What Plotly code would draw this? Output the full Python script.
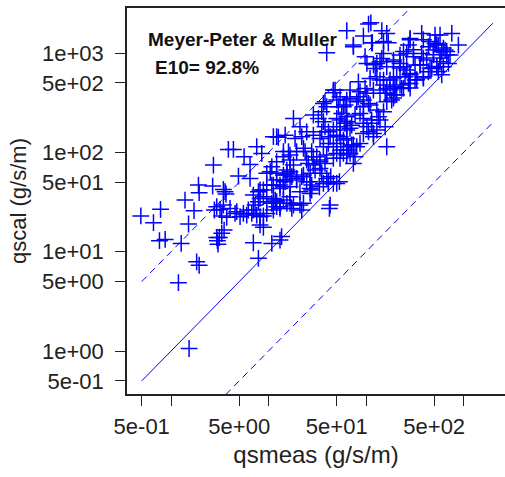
import plotly.graph_objects as go

# measured vs calculated sediment transport (g/s/m)
qsmeas = [
    0.49, 0.66, 0.78, 0.76, 0.87, 1.27, 1.19, 1.39, 1.51, 1.72, 1.91, 1.94, 1.83, 1.94, 1.53,
    2.72, 2.67, 2.78, 2.94, 2.99, 3.03, 3.18, 3.31, 3.44, 3.66, 3.50, 3.13, 3.87, 4.36, 3.72,
    4.91, 5.61, 6.46, 4.53, 5.10, 5.52, 5.97, 6.72, 7.56, 8.18, 8.85, 9.58, 6.98, 7.87, 8.85,
    7.56, 8.51, 7.87, 8.18, 8.85, 9.58, 7.27, 7.87, 11.2, 12.6, 10.8, 13.1, 13.6, 10.8, 9.58,
    12.1, 13.1, 14.2, 11.7, 10.8, 12.1, 13.1, 15.4, 18.0, 18.0, 21.0, 18.7, 21.9, 16.0, 14.2,
    16.6, 15.4, 17.3, 19.4, 21.9, 14.8, 16.6, 16.6, 17.3, 21.0, 21.9, 23.7, 25.6, 27.7, 28.8,
    26.7, 30.0, 33.7, 24.6, 27.7, 27.7, 26.7, 35.1, 37.9, 39.5, 35.1, 37.9, 41.1, 42.8, 36.5,
    41.1, 46.2, 31.2, 33.7, 37.9, 35.1, 39.5, 43.4, 33.2, 36.5, 41.1, 46.2, 50.0, 42.1, 50.0,
    53.3, 46.2, 54.1, 63.4, 52.0, 56.3, 54.1, 60.9, 68.5, 54.1, 58.6, 65.9, 74.1, 50.0, 55.0,
    58.6, 68.5, 74.1, 77.1, 80.2, 86.7, 77.1, 86.7, 93.9, 93.9, 106, 83.4, 97.7, 83.4, 93.9,
    102, 114, 129, 106, 119, 114, 134, 102, 97.7, 129, 124, 145, 139, 151, 163,
    157, 176, 198, 163, 183, 176, 206, 191, 223, 163, 191, 223, 261, 283, 251,
    283, 318, 358, 419, 472, 372, 436, 510, 491, 552, 597, 387, 436, 531, 574,
    621, 699, 727, 646, 757, 885, 372, 510, 283, 272, 574, 63.4, 106, 112, 145,
    163, 93.9, 116, 74.1, 39.5, 169, 151, 163, 8.18, 10.8, 14.2, 15.4, 16.6, 6.98, 8.85,
    9.58, 2.94, 3.44, 4.03, 4.72, 6.21, 6.98, 11.2, 13.1, 15.4, 18.0, 12.1, 14.2, 16.6, 8.18,
    3.31, 6.46, 3.58, 46.2, 68.5, 36.5, 50.0, 60.9, 68.5, 28.8, 32.4, 36.5, 50.0, 63.4, 71.3,
    12.1, 14.8, 24.6, 28.8, 33.7, 50.0, 63.4, 71.3, 14.2, 16.6, 19.4, 22.8, 12.1, 24.6, 28.8,
    33.7, 39.5, 54.1, 63.4, 10.4, 12.1, 14.2, 19.4, 22.8, 26.7, 41.1, 11.2, 13.1, 21.0, 26.7,
    11.2, 22.8, 42.8, 74.1, 114, 139, 191, 223, 261, 306, 110, 129, 151, 242, 318,
    48.1, 86.7, 102, 119, 139, 198, 232, 272, 58.6, 80.2, 110, 129, 151, 54.1, 63.4,
    93.9, 139, 157, 46.2, 63.4, 93.9, 119, 63.4, 46.2, 283, 387, 242, 306, 453, 531,
    621, 672, 491, 387, 574, 358, 453, 531, 552, 283, 331, 223, 191, 242, 206,
    191, 283, 387, 672, 597, 151, 119,
]
qscal = [
    22.9, 19.6, 26.7, 12.9, 13.3, 12.1, 4.88, 33.1, 19.0, 25.9, 46.9, 39.3, 7.9, 7.3, 1.06,
    74.5, 45.8, 26.3, 13.9, 12.9, 11.9, 26.6, 22.9, 42.4, 38.1, 16.5, 13.9, 107, 107, 22.2,
    57.8, 90.4, 75.7, 24.3, 22.5, 24.3, 23.4, 24.3, 23.4, 22.5, 22.9, 24.3, 12.3, 8.57, 17.6,
    114, 97.7, 40.2, 34.4, 41.8, 46.9, 29.5, 31.9, 144, 142, 12.1, 13.1, 14.2, 71.8, 61.5,
    52.6, 46.9, 45.1, 33.1, 30.7, 28.4, 27.3, 66.4, 74.5, 220, 181, 138, 144, 102, 90.4,
    83.7, 61.5, 56.9, 52.6, 56.9, 50.7, 45.1, 30.7, 27.3, 29.5, 26.3, 102, 77.5, 102, 90.4,
    61.5, 66.4, 69.0, 50.7, 46.9, 41.8, 38.6, 257, 324, 288, 161, 181, 161, 144, 114,
    123, 114, 90.4, 83.7, 77.5, 61.5, 54.7, 56.9, 45.1, 48.7, 50.7, 87.1, 97.7, 27.3, 48.7,
    50.7, 399, 363, 336, 288, 247, 181, 196, 175, 144, 133, 114, 119, 123, 106,
    97.7, 97.7, 77.5, 90.4, 114, 123, 238, 247, 220, 288, 311, 514, 441, 363, 336,
    181, 196, 168, 161, 155, 212, 229, 787, 918, 787, 701, 883, 535, 476, 441,
    393, 424, 378, 324, 336, 535, 578, 458, 476, 728, 818, 787, 675, 624, 578,
    495, 535, 757, 851, 701, 993, 1159, 1250, 1072, 1205, 1031, 578, 649, 728, 818,
    728, 787, 955, 1072, 1578, 1205, 1578, 1517, 1406, 1205, 1517, 1679, 1959, 2019, 1679,
    1578, 1483, 1271, 1159, 1007, 1271, 993, 114, 41.8, 46.9, 52.6, 59.1, 63.9, 37.2, 35.8,
    31.9, 28.4, 29.5, 27.3, 25.3, 26.3, 26.3, 26.3, 28.4, 30.7, 29.5, 31.9, 33.1, 35.8, 18.6,
    15.3, 54.7, 40.2, 424, 424, 311, 336, 300, 350, 238, 220, 204, 220, 204, 188,
    144, 149, 161, 149, 138, 149, 138, 119, 102, 94.0, 102, 110, 80.5, 83.7, 74.5,
    80.5, 94.0, 87.1, 94.0, 63.9, 61.5, 59.1, 54.7, 59.1, 50.7, 48.7, 46.9, 43.4, 40.2, 43.4,
    34.4, 30.7, 29.5, 1205, 1271, 818, 851, 955, 993, 918, 556, 578, 535, 728, 757,
    424, 408, 393, 424, 393, 458, 441, 495, 288, 324, 300, 267, 257, 212, 229,
    196, 212, 181, 168, 168, 155, 144, 106, 48.7, 1362, 1362, 1040, 1081, 1310, 1213,
    1122, 1040, 962, 891, 891, 763, 706, 734, 653, 605, 540, 706, 560, 444, 381,
    352, 444, 560, 962, 605, 1310, 763,
]

# reference lines: 1:1 and factor-of-10 bounds
line_x = [0.5, 2000]
ratio_factors = [1, 10, 0.1]

# tick labels
y_tickvals = [0.5, 1, 5, 10, 50, 100, 500, 1000]
y_ticktext = ["5e-01", "1e+00", "5e+00", "1e+01", "5e+01", "1e+02", "5e+02", "1e+03"]
x_tickvals = [0.5, 1, 5, 10, 50, 100, 500, 1000]
x_ticktext = ["5e-01", "", "5e+00", "", "5e+01", "", "5e+02", ""]

model_name = "Meyer-Peter & Muller"
e10_text = "E10= 92.8%"

BLUE = "#0000FF"
FONT = "Liberation Sans, Arial, sans-serif"
INK = "#222222"

fig = go.Figure()

for f in ratio_factors:
    fig.add_trace(go.Scatter(
        x=line_x, y=[v * f for v in line_x], mode="lines",
        line=dict(color=BLUE, width=1, dash="solid" if f == 1 else "7px,5px"),
        hoverinfo="skip", showlegend=False,
    ))

fig.add_trace(go.Scatter(
    x=qsmeas, y=qscal, mode="markers",
    marker=dict(symbol="cross-thin", size=12, color=BLUE,
                line=dict(color=BLUE, width=1.5)),
    showlegend=False,
))

axis_common = dict(
    type="log", showgrid=False, zeroline=False, automargin=False,
    showline=True, linecolor=INK, linewidth=1.5,
    ticks="outside", ticklen=10, tickwidth=1.3, tickcolor=INK,
    tickfont=dict(family=FONT, size=22, color=INK),
    tickmode="array",
)

fig.update_layout(
    width=505, height=477,
    margin=dict(l=127, r=0, t=8, b=83),
    paper_bgcolor="white", plot_bgcolor="white",
    xaxis=dict(
        **axis_common, range=[-0.452, 3.425], mirror=True,
        tickvals=x_tickvals, ticktext=x_ticktext,
        ticklabelstandoff=2,
        title=dict(text="qsmeas (g/s/m)", font=dict(family=FONT, size=24, color=INK),
                   standoff=8),
    ),
    yaxis=dict(
        **axis_common, range=[-0.433, 3.454], mirror=False,
        tickvals=y_tickvals, ticktext=y_ticktext,
        ticklabelstandoff=7,
        title=dict(text="qscal (g/s/m)", font=dict(family=FONT, size=22, color=INK),
                   standoff=9),
    ),
    annotations=[
        dict(text="<b>" + model_name + "</b>", xref="paper", yref="paper",
             x=(146 - 127) / 378, y=(394 - 40) / 386, xanchor="left", yanchor="middle",
             showarrow=False, font=dict(family=FONT, size=19, color="#111111")),
        dict(text="<b>" + e10_text + "</b>", xref="paper", yref="paper",
             x=(153 - 127) / 378, y=(394 - 67) / 386, xanchor="left", yanchor="middle",
             showarrow=False, font=dict(family=FONT, size=19, color="#111111")),
    ],
)

fig.write_html("out.html", config={"displayModeBar": False},
               post_script="document.body.style.margin='0';"
               "document.body.style.overflow='hidden';")
